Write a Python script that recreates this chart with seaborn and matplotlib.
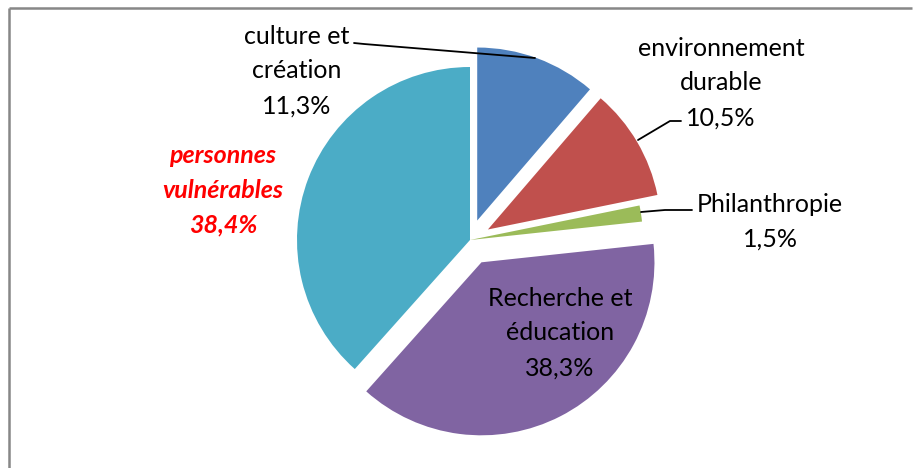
import matplotlib.pyplot as plt
import seaborn as sns

# data
categories = ["culture et\ncréation", "environnement\ndurable", "Philanthropie",
              "Recherche et\néducation", "personnes\nvulnérables"]
shares = [11.3, 10.5, 1.5, 38.3, 38.4]
explode = [0.12, 0.12, 0.0, 0.145, 0.0]   # fraction of radius
colors = ["#4F81BD", "#C0504D", "#9BBB59", "#8064A2", "#4BACC6"]

sns.set_theme(style="white")
plt.rcParams['font.family'] = ['Lato', 'DejaVu Sans']

W, H = 914, 468
fig = plt.figure(figsize=(W / 100, H / 100), dpi=100)
ax = fig.add_axes([0, 0, 1, 1])

def py(y):
    # image y (top down) -> data y
    return H - y

cx, cy, r = 470, py(240), 173
ax.pie(shares, explode=[e * r for e in explode], colors=sns.color_palette(colors),
       startangle=90, counterclock=False, center=(cx, cy), radius=r, frame=True,
       wedgeprops=dict(linewidth=0))
ax.set_xlim(0, W)
ax.set_ylim(0, H)
ax.set_aspect('equal')
ax.axis('off')

def lab(i):
    return categories[i] + "\n" + f"{shares[i]:.1f}%".replace(".", ",")

fs = 18
ls = 1.62
kw = dict(ha='center', va='center', fontsize=fs, linespacing=ls, color='black')
ax.text(297, py(71), lab(0), **kw)
ax.text(721, py(83), lab(1), **kw)
ax.text(770, py(222), lab(2), **kw)
ax.text(560, py(333), lab(3), **kw)
kw.update(color='#FF0000', fontweight='bold', fontstyle='italic')
ax.text(223, py(190), lab(4), **kw)

# leader lines
ax.plot([354, 364, 535], [py(43), py(44), py(58)], color='black', lw=1.3)
ax.plot([638, 670, 681], [py(140), py(121), py(121)], color='black', lw=1.3)
ax.plot([641, 665, 692], [py(212), py(210), py(210)], color='black', lw=1.3)

# chart frame (top and left edges visible)
ax.plot([9, 912], [py(8), py(8)], color='#878787', lw=1.8, solid_capstyle='butt')
ax.plot([9, 9], [py(8), 0], color='#878787', lw=1.8, solid_capstyle='butt')

fig.savefig("out.png", dpi=100)
